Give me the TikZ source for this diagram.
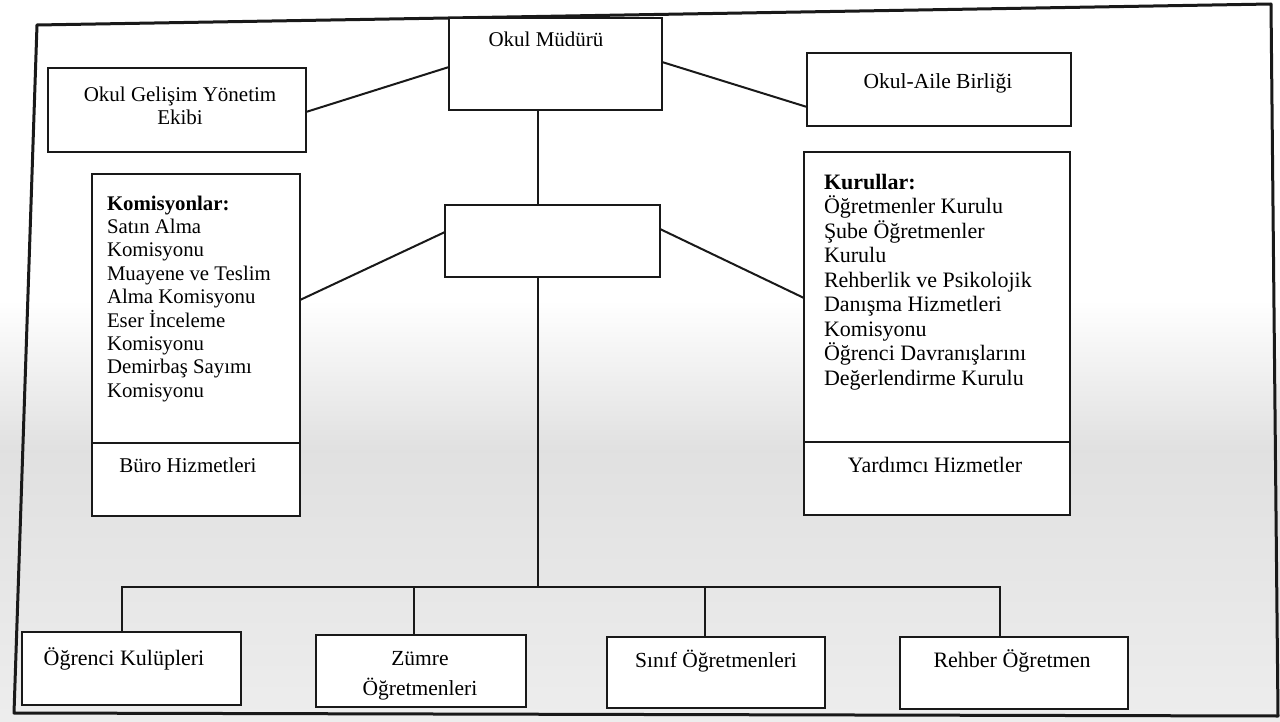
\documentclass[tikz,border=0pt]{standalone}
\usepackage{fontspec}
\setmainfont{Liberation Serif}
\newcommand{\toprule}{\rule{0pt}{20pt}}
\begin{document}
\begin{tikzpicture}[x=1pt,y=-1pt,
  box/.style={draw=black!90, line width=2.4pt, fill=white, rectangle, inner sep=0pt, outer sep=0pt},
  link/.style={draw=black!90, line width=2pt},
  frameline/.style={draw=black!90, line width=3pt, line join=round},
  txt/.style={inner sep=0pt, outer sep=0pt, text=black},
  fa/.style={font=\fontsize{21}{23}\selectfont},
  fb/.style={font=\fontsize{22}{24.5}\selectfont}]
\useasboundingbox (0,0) rectangle (1280,722);
% background (scan tone)
\fill[white] (0,0) rectangle (1280,300);
\shade[top color=white, bottom color=gray!24] (0,300) rectangle (1280,450);
\shade[top color=gray!24, bottom color=gray!14] (0,450) rectangle (1280,722);
% outer frame
\draw[frameline] (37,25) -- (1271,4) -- (1278,716) -- (14,713) -- cycle;

% boxes
\node[box, minimum width=213, minimum height=92]  (mudur)  at (555.5,64) {};
\node[box, minimum width=258, minimum height=84]  (ogye)   at (177,110) {};
\node[box, minimum width=264, minimum height=73]  (oab)    at (939,89.5) {};
\node[box, minimum width=215, minimum height=72]  (merkez) at (552.5,241) {};
\node[box, minimum width=208, minimum height=342] (kom)    at (196,345) {};
\node[box, minimum width=266, minimum height=363] (kur)    at (937,333.5) {};
\node[box, minimum width=219, minimum height=73]  (ok)     at (131.5,668.5) {};
\node[box, minimum width=210, minimum height=72]  (zo)     at (421,671) {};
\node[box, minimum width=218, minimum height=71]  (so)     at (716,672.5) {};
\node[box, minimum width=228, minimum height=72]  (ro)     at (1014,673) {};

% dividers inside the two tall boxes
\coordinate (kdiv) at (0,443);
\coordinate (rdiv) at (0,442);
\draw[link, line width=2.4pt] (kom.west |- kdiv) -- (kom.east |- kdiv);
\draw[link, line width=2.4pt] (kur.west |- rdiv) -- (kur.east |- rdiv);

% bus coordinates
\coordinate (spine) at (538,587);
\coordinate (b1) at (122,587);
\coordinate (b2) at (414,587);
\coordinate (b3) at (705,587);
\coordinate (b4) at (1000,587);

% connectors
\draw[link] ([yshift=-3pt]mudur.west) -- ([yshift=-2pt]ogye.east);
\draw[link] ([yshift=2pt]mudur.east) -- ([yshift=-17.5pt]oab.west);
\draw[link] ([yshift=9pt]merkez.west) -- ([yshift=45pt]kom.east);
\draw[link] ([yshift=12pt]merkez.east) -- ([yshift=35.5pt]kur.west);
\draw[link] (mudur.south -| spine) -- (merkez.north -| spine);
\draw[link] (merkez.south -| spine) -- (spine);
\draw[link, line width=2.4pt] (ok.north -| b1) |- (b4) -- (ro.north -| b4);
\draw[link, line width=2.4pt] (b2) -- (zo.north -| b2);
\draw[link, line width=2.4pt] (b3) -- (so.north -| b3);

% texts
\node[txt, fa, anchor=base] (tmudur) at (546,47) {Okul Müdürü};
\node[txt, fa, anchor=north, align=center] (togye) at (180,82) {\toprule Okul Gelişim Yönetim\\Ekibi};
\node[txt, font=\fontsize{21.5}{23}\selectfont, anchor=base] (toab) at (938,89) {Okul-Aile Birliği};
\node[txt, font=\fontsize{20.8}{23.4}\selectfont, anchor=north west, align=left] (tkom) at (107,190)
  {\toprule\textbf{Komisyonlar:}\\Satın Alma\\Komisyonu\\Muayene ve Teslim\\Alma Komisyonu\\Eser İnceleme\\Komisyonu\\Demirbaş Sayımı\\Komisyonu};
\node[txt, fa, anchor=base] (tburo) at (188,472) {Büro Hizmetleri};
\node[txt, fb, anchor=north west, align=left] (tkur) at (824,169)
  {\toprule\textbf{Kurullar:}\\Öğretmenler Kurulu\\Şube Öğretmenler\\Kurulu\\Rehberlik ve Psikolojik\\Danışma Hizmetleri\\Komisyonu\\Öğrenci Davranışlarını\\Değerlendirme Kurulu};
\node[txt, fb, anchor=base] (tyard) at (935,472) {Yardımcı Hizmetler};
\node[txt, fb, anchor=base] (tok) at (124,665) {Öğrenci Kulüpleri};
\node[txt, font=\fontsize{21.5}{30}\selectfont, anchor=north, align=center] (tzo) at (420,645) {\toprule Zümre\\Öğretmenleri};
\node[txt, font=\fontsize{21.5}{24}\selectfont, anchor=base] (tso) at (716,667) {Sınıf Öğretmenleri};
\node[txt, fb, anchor=base] (tro) at (1012,667) {Rehber Öğretmen};
\end{tikzpicture}
\end{document}
